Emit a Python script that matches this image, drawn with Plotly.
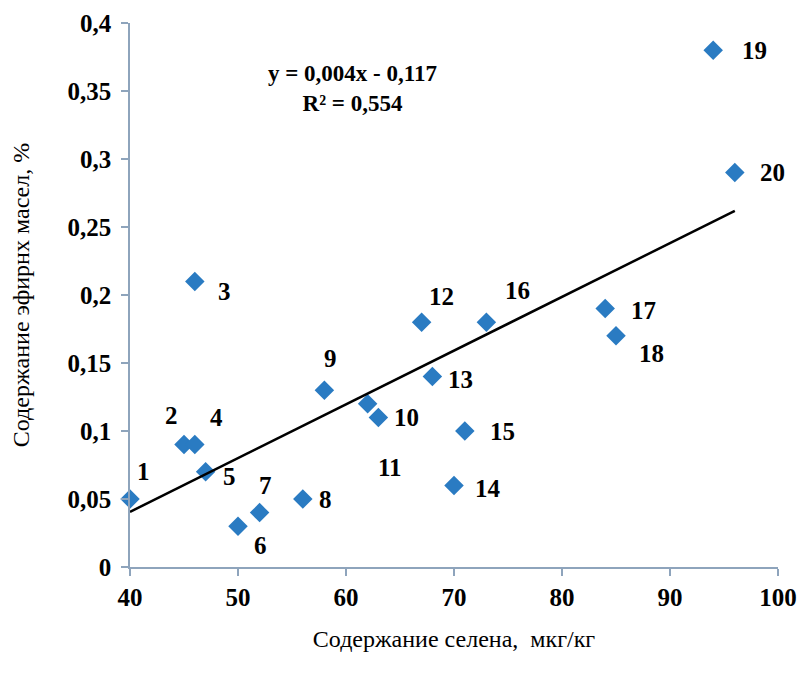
import numpy as np
import plotly.graph_objects as go

selenium = [40, 45, 46, 46, 47, 50, 52, 56, 58, 62, 63, 67, 68, 70, 71, 73, 84, 85, 94, 96]
oil = [0.05, 0.09, 0.21, 0.09, 0.07, 0.03, 0.04, 0.05, 0.13, 0.12, 0.11, 0.18, 0.14, 0.06, 0.10, 0.18, 0.19, 0.17, 0.38, 0.29]
point_labels = [str(i) for i in range(1, 21)]
# label offsets in pixels (dx right, dy down)
label_dx = [13, -13, 30, 22, 24, 22, 6, 23, 6, 39, 12, 20, 28, 34, 38, 31, 38, 35, 41, 38]
label_dy = [-28, -29, 10, -27, 5, 19, -27, 0, -32, 14, 50, -26, 3, 3, 0, -32, 2, 18, 0, 0]

x_ticks = [40, 50, 60, 70, 80, 90, 100]
y_ticks = [0, 0.05, 0.1, 0.15, 0.2, 0.25, 0.3, 0.35, 0.4]
y_ticktext = ["0", "0,05", "0,1", "0,15", "0,2", "0,25", "0,3", "0,35", "0,4"]

slope, intercept = np.polyfit(selenium, oil, 1)
xs = np.array([min(selenium), max(selenium)])
ys = slope * xs + intercept

SERIF = "Liberation Serif"

fig = go.Figure()
fig.add_trace(go.Scatter(x=selenium, y=oil, mode="markers",
                         marker=dict(symbol="diamond", size=15, color="#2A7BC2"),
                         showlegend=False, cliponaxis=False))
fig.add_trace(go.Scatter(x=xs, y=ys, mode="lines", line=dict(color="black", width=2.5),
                         showlegend=False))

for x, y, t, dx, dy in zip(selenium, oil, point_labels, label_dx, label_dy):
    fig.add_annotation(x=x, y=y, text=f"<b>{t}</b>", showarrow=True, arrowcolor="rgba(0,0,0,0)",
                       ax=dx, ay=dy, axref="pixel", ayref="pixel",
                       font=dict(family=SERIF, size=25, color="black"),
                       xanchor="center", yanchor="middle")

fig.add_annotation(xref="paper", yref="paper", x=0.343, y=0.88,
                   text="<b>y = 0,004x - 0,117<br>R² = 0,554</b>", showarrow=False,
                   font=dict(family=SERIF, size=23, color="black"),
                   align="center", xanchor="center", yanchor="middle")

axis_col = "#8EA4BC"
fig.update_layout(
    width=799, height=667,
    margin=dict(l=122, r=29, t=15, b=108),
    plot_bgcolor="white", paper_bgcolor="white",
    font=dict(family=SERIF, size=20, color="black"),
    xaxis=dict(range=[40, 100], tickvals=x_ticks, ticktext=[f"<b>{v}</b>" for v in x_ticks],
               showgrid=False, zeroline=False, showline=True, linecolor=axis_col, linewidth=1.5,
               ticks="outside", ticklen=7, tickcolor=axis_col, tickwidth=1.5, automargin=False,
               title=dict(text="Содержание селена,  мкг/кг", font=dict(family=SERIF, size=24), standoff=20),
               tickfont=dict(family=SERIF, size=25)),
    yaxis=dict(range=[0, 0.4], tickvals=y_ticks, ticktext=[f"<b>{t}</b>" for t in y_ticktext],
               showgrid=False, zeroline=False, showline=True, linecolor=axis_col, linewidth=1.5,
               ticks="outside", ticklen=7, tickcolor=axis_col, tickwidth=1.5, automargin=False,
               ticklabelstandoff=5,
               title=dict(text="Содержание эфирнх масел, %", font=dict(family=SERIF, size=24), standoff=33),
               tickfont=dict(family=SERIF, size=25)),
)

fig.write_html("out.html")
